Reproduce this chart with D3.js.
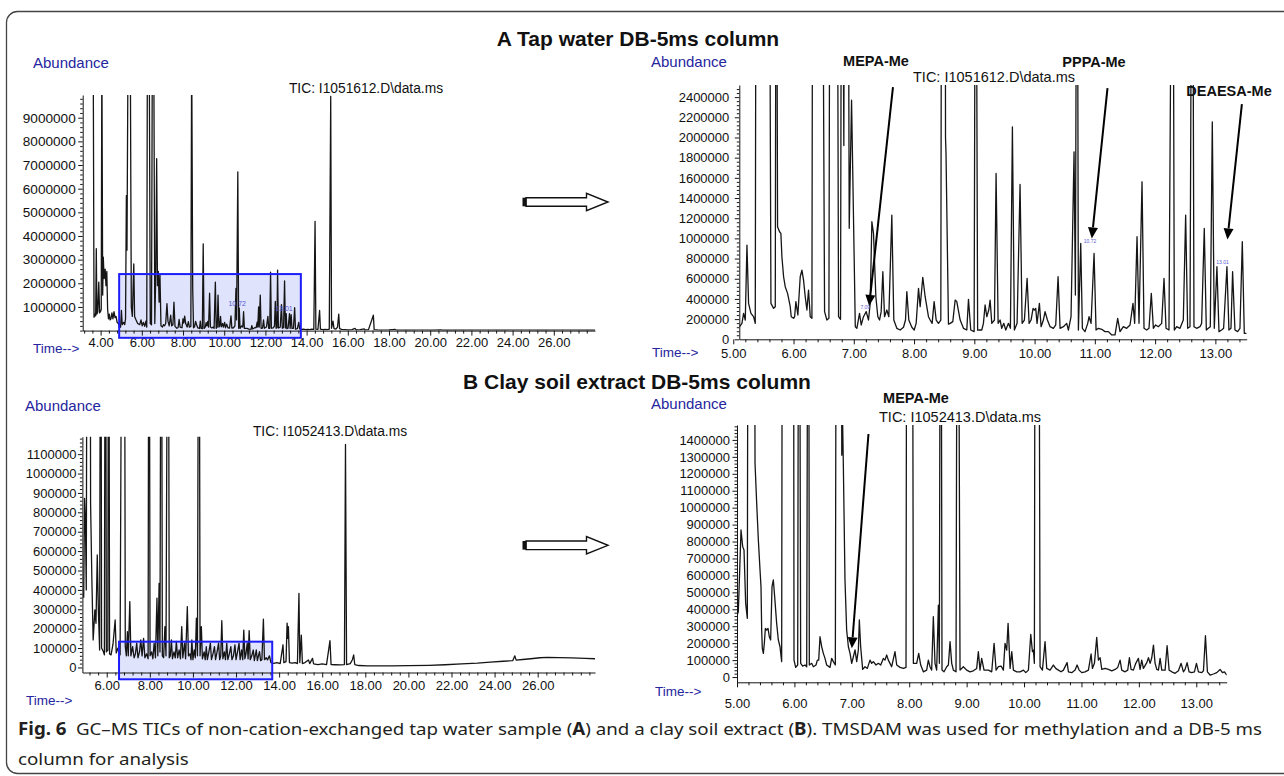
<!DOCTYPE html>
<html>
<head>
<meta charset="utf-8">
<script src="https://cdn.jsdelivr.net/npm/d3@7"></script>
<style>
  body { margin: 0; background: #fff; }
  svg text { font-family: "Liberation Sans", Arial, sans-serif; }
</style>
</head>
<body>
<svg id="fig" width="1284" height="776"></svg>
<script>
// ---- data: [retention time (min), abundance] ----
const tapFullTrace = [
  [3.64,12e6],[3.68,560e3],[3.72,700e3],[3.76,620e3],[3.79,3.46e6],[3.82,700e3],[3.86,800e3],[3.91,2.05e6],[3.95,750e3],[3.99,800e3],
  [4.03,900e3],[4.06,12e6],[4.10,1.5e6],[4.13,3.1e6],[4.17,2.2e6],[4.22,2.6e6],[4.26,1.9e6],[4.30,2.5e6],[4.34,900e3],[4.38,500e3],
  [4.42,700e3],[4.46,450e3],[4.50,500e3],[4.55,750e3],[4.60,500e3],[4.65,800e3],[4.70,550e3],[4.75,600e3],[4.80,350e3],[4.86,300e3],
  [4.92,120e3],[4.97,150e3],[5.01,850e3],[5.05,250e3],[5.12,350e3],[5.17,250e3],[5.21,500e3],[5.25,5.7e6],[5.28,3.4e6],[5.33,12e6],
  [5.44,12e6],[5.49,1.0e6],[5.54,600e3],[5.61,2.82e6],[5.65,600e3],[5.72,450e3],[5.80,300e3],[5.90,250e3],[5.96,450e3],[6.02,200e3],
  [6.08,350e3],[6.14,180e3],[6.20,400e3],[6.24,150e3],[6.27,12e6],[6.36,12e6],[6.41,300e3],[6.47,250e3],[6.51,12e6],[6.58,12e6],
  [6.63,300e3],[6.68,2.5e6],[6.72,7.27e6],[6.76,1.9e6],[6.80,2.5e6],[6.84,1.2e6],[6.88,2.37e6],[6.93,200e3],[7.00,150e3],[7.05,250e3],
  [7.10,200e3],[7.16,300e3],[7.22,1.14e6],[7.27,400e3],[7.33,200e3],[7.40,650e3],[7.45,200e3],[7.51,250e3],[7.56,1.2e6],[7.61,180e3],
  [7.70,100e3],[7.76,120e3],[7.81,470e3],[7.86,150e3],[7.95,120e3],[8.00,500e3],[8.04,320e3],[8.08,610e3],[8.13,300e3],[8.20,150e3],
  [8.26,380e3],[8.31,150e3],[8.38,180e3],[8.42,12e6],[8.47,1.8e6],[8.51,120e3],[8.56,160e3],[8.61,390e3],[8.66,250e3],[8.72,110e3],
  [8.80,90e3],[8.84,400e3],[8.88,90e3],[8.94,80e3],[8.98,3.67e6],[9.02,90e3],[9.08,150e3],[9.12,340e3],[9.16,200e3],[9.20,390e3],
  [9.24,150e3],[9.29,1.58e6],[9.33,150e3],[9.40,110e3],[9.46,150e3],[9.51,100e3],[9.57,2.05e6],[9.61,100e3],[9.66,150e3],[9.70,1.5e6],
  [9.74,150e3],[9.78,190e3],[9.82,600e3],[9.86,160e3],[9.92,300e3],[9.96,150e3],[10.02,350e3],[10.06,120e3],[10.12,270e3],[10.18,120e3],
  [10.26,110e3],[10.33,620e3],[10.37,110e3],[10.45,120e3],[10.52,200e3],[10.57,1.78e6],[10.60,450e3],[10.66,6.71e6],[10.70,100e3],[10.73,950e3],
  [10.77,90e3],[10.85,200e3],[10.90,150e3],[10.94,800e3],[10.98,90e3],[11.10,90e3],[11.20,60e3],[11.30,50e3],[11.34,210e3],[11.38,70e3],
  [11.48,120e3],[11.55,130e3],[11.60,360e3],[11.63,150e3],[11.67,1.0e6],[11.70,150e3],[11.75,1.5e6],[11.79,100e3],[11.86,110e3],[11.91,450e3],
  [11.95,100e3],[12.05,150e3],[12.12,600e3],[12.16,100e3],[12.21,100e3],[12.25,2.47e6],[12.29,100e3],[12.38,120e3],[12.44,190e3],[12.48,1.23e6],
  [12.52,100e3],[12.56,120e3],[12.59,2.56e6],[12.63,110e3],[12.72,150e3],[12.78,1.1e6],[12.82,100e3],[12.88,120e3],[12.93,2.1e6],[12.97,110e3],
  [13.01,720e3],[13.04,80e3],[13.10,100e3],[13.17,720e3],[13.20,90e3],[13.25,670e3],[13.29,90e3],[13.36,100e3],[13.42,970e3],[13.46,60e3],
  [13.55,80e3],[13.62,350e3],[13.66,70e3],[13.75,50e3],[13.85,60e3],[13.95,40e3],[14.05,50e3],[14.15,40e3],[14.25,60e3],[14.35,50e3],
  [14.41,4.62e6],[14.45,60e3],[14.55,50e3],[14.63,850e3],[14.67,60e3],[14.80,40e3],[14.90,50e3],[15.00,40e3],[15.10,60e3],[15.17,9.9e6],
  [15.21,100e3],[15.28,400e3],[15.33,80e3],[15.42,60e3],[15.50,150e3],[15.56,700e3],[15.60,80e3],[15.70,50e3],[15.85,40e3],[16.00,30e3],
  [16.20,40e3],[16.35,90e3],[16.40,30e3],[16.60,40e3],[16.80,70e3],[16.85,30e3],[17.00,30e3],[17.24,650e3],[17.28,40e3],[17.50,20e3],
  [18.00,25e3],[18.30,50e3],[18.35,20e3],[18.80,15e3],[19.50,20e3],[20.20,15e3],[20.50,30e3],[20.60,15e3],[21.50,15e3],[22.50,20e3],
  [23.50,15e3],[24.50,20e3],[25.50,15e3],[26.50,20e3],[27.50,15e3],[28.00,15e3]
];

const tapZoomTrace = [
  [5.105,125e3],[5.144,158e3],[5.171,257e3],[5.199,191e3],[5.227,934e3],[5.254,356e3],[5.293,257e3],[5.337,224e3],[5.365,158e3],[5.381,6e6],
  [5.591,6e6],[5.625,356e3],[5.669,307e3],[5.697,323e3],[5.713,6e6],[5.735,1.115e6],[5.768,1.066e6],[5.790,1.05e6],[5.807,818e3],[5.835,620e3],
  [5.862,521e3],[5.901,455e3],[5.918,406e3],[5.945,323e3],[5.962,224e3],[6.001,208e3],[6.018,224e3],[6.039,373e3],[6.072,241e3],[6.111,620e3],
  [6.139,686e3],[6.166,587e3],[6.194,422e3],[6.222,290e3],[6.249,488e3],[6.277,224e3],[6.305,208e3],[6.321,6e6],[6.470,6e6],[6.515,274e3],
  [6.553,191e3],[6.587,208e3],[6.609,6e6],[6.719,6e6],[6.747,224e3],[6.780,198e3],[6.800,6e6],[6.835,1.92e6],[6.850,6e6],[6.900,6e6],
  [6.924,1.1e6],[6.963,2.37e6],[7.025,125e3],[7.051,109e3],[7.095,257e3],[7.123,142e3],[7.161,224e3],[7.206,274e3],[7.244,191e3],[7.272,356e3],
  [7.300,1.165e6],[7.327,1.05e6],[7.366,422e3],[7.399,224e3],[7.427,191e3],[7.454,274e3],[7.482,670e3],[7.510,224e3],[7.548,290e3],[7.581,224e3],
  [7.631,1.23e6],[7.664,191e3],[7.714,109e3],[7.769,92e3],[7.825,119e3],[7.858,191e3],[7.880,472e3],[7.913,191e3],[7.963,119e3],[8.002,92e3],
  [8.035,158e3],[8.074,505e3],[8.101,323e3],[8.145,614e3],[8.184,422e3],[8.239,224e3],[8.267,191e3],[8.300,158e3],[8.333,373e3],[8.367,191e3],
  [8.405,158e3],[8.444,191e3],[8.460,6e6],[8.515,6e6],[8.522,2.0e6],[8.530,1.85e6],[8.571,150e3],[8.599,158e3],[8.643,175e3],[8.682,389e3],
  [8.709,373e3],[8.765,191e3],[8.820,109e3],[8.875,92e3],[8.903,396e3],[8.941,92e3],[8.997,76e3],[9.022,6e6],[9.055,90e3],[9.074,92e3],
  [9.124,92e3],[9.151,158e3],[9.179,340e3],[9.207,224e3],[9.240,290e3],[9.262,389e3],[9.290,158e3],[9.334,191e3],[9.361,1.643e6],[9.395,158e3],
  [9.428,191e3],[9.455,109e3],[9.489,158e3],[9.522,92e3],[9.566,158e3],[9.599,109e3],[9.632,2.105e6],[9.665,92e3],[9.710,158e3],[9.759,1.535e6],
  [9.793,158e3],[9.831,191e3],[9.876,604e3],[9.909,158e3],[9.942,191e3],[9.975,307e3],[9.997,290e3],[10.019,307e3],[10.041,158e3],[10.080,356e3],
  [10.108,125e3],[10.146,191e3],[10.174,274e3],[10.213,191e3],[10.257,125e3],[10.312,109e3],[10.351,142e3],[10.390,620e3],[10.423,109e3],[10.478,125e3],
  [10.533,158e3],[10.561,92e3],[10.605,224e3],[10.655,1.858e6],[10.677,439e3],[10.705,6e6],[10.727,92e3],[10.766,950e3],[10.793,109e3],[10.837,76e3],
  [10.882,158e3],[10.904,224e3],[10.937,158e3],[10.987,851e3],[11.020,92e3],[11.059,109e3],[11.114,99e3],[11.169,76e3],[11.225,76e3],[11.280,43e3],
  [11.335,43e3],[11.379,208e3],[11.418,76e3],[11.473,125e3],[11.528,109e3],[11.584,142e3],[11.633,356e3],[11.661,158e3],[11.700,1.016e6],[11.733,158e3],
  [11.783,1.561e6],[11.816,109e3],[11.860,92e3],[11.899,109e3],[11.937,455e3],[11.971,109e3],[12.009,142e3],[12.053,125e3],[12.109,158e3],[12.148,604e3],
  [12.181,109e3],[12.230,92e3],[12.291,6e6],[12.319,92e3],[12.358,125e3],[12.413,109e3],[12.468,191e3],[12.507,1.231e6],[12.540,109e3],[12.579,125e3],
  [12.617,6e6],[12.645,125e3],[12.689,109e3],[12.745,125e3],[12.772,158e3],[12.816,1.099e6],[12.850,92e3],[12.883,109e3],[12.916,125e3],[12.949,2.155e6],
  [12.982,109e3],[13.026,719e3],[13.060,76e3],[13.104,92e3],[13.137,109e3],[13.192,719e3],[13.225,92e3],[13.259,109e3],[13.286,670e3],[13.325,92e3],
  [13.369,76e3],[13.408,109e3],[13.447,967e3],[13.480,59e3],[13.518,59e3]
];

const clayFullTrace = [
  [4.93,360e3],[4.97,872e3],[5.01,760e3],[5.05,400e3],[5.10,3e6],[5.22,3e6],[5.25,846e3],[5.31,450e3],[5.37,142e3],[5.45,297e3],
  [5.50,228e3],[5.56,580e3],[5.61,300e3],[5.67,90e3],[5.72,3e6],[5.76,100e3],[5.85,80e3],[5.89,65e3],[5.94,3e6],[5.98,80e3],
  [6.05,90e3],[6.09,3e6],[6.13,70e3],[6.20,65e3],[6.29,120e3],[6.39,245e3],[6.44,75e3],[6.52,100e3],[6.62,65e3],[6.73,3e6],
  [6.81,3e6],[6.86,110e3],[6.91,60e3],[6.96,185e3],[7.00,60e3],[7.07,340e3],[7.12,60e3],[7.20,107e3],[7.27,50e3],[7.33,70e3],
  [7.39,125e3],[7.45,50e3],[7.52,80e3],[7.58,142e3],[7.64,60e3],[7.71,150e3],[7.77,50e3],[7.85,70e3],[7.92,45e3],[7.96,3e6],
  [8.01,60e3],[8.08,80e3],[8.14,45e3],[8.20,125e3],[8.26,50e3],[8.33,357e3],[8.37,60e3],[8.43,434e3],[8.47,80e3],[8.53,3e6],
  [8.58,60e3],[8.64,50e3],[8.70,211e3],[8.75,60e3],[8.85,3e6],[8.90,50e3],[8.95,60e3],[9.00,142e3],[9.05,45e3],[9.12,80e3],
  [9.18,50e3],[9.23,134e3],[9.29,50e3],[9.36,90e3],[9.42,45e3],[9.48,211e3],[9.53,50e3],[9.61,125e3],[9.66,45e3],[9.74,314e3],
  [9.79,60e3],[9.86,70e3],[9.91,40e3],[9.95,142e3],[10.00,40e3],[10.06,90e3],[10.11,50e3],[10.16,254e3],[10.21,60e3],[10.28,3e6],
  [10.33,60e3],[10.39,211e3],[10.44,45e3],[10.52,80e3],[10.57,40e3],[10.62,107e3],[10.67,40e3],[10.74,80e3],[10.81,125e3],[10.86,40e3],
  [10.93,70e3],[11.00,107e3],[11.05,40e3],[11.12,80e3],[11.19,125e3],[11.24,40e3],[11.29,60e3],[11.34,241e3],[11.39,45e3],[11.46,80e3],
  [11.51,40e3],[11.57,125e3],[11.62,40e3],[11.69,70e3],[11.76,107e3],[11.81,40e3],[11.88,60e3],[11.95,116e3],[12.00,40e3],[12.07,80e3],
  [12.14,125e3],[12.19,40e3],[12.26,90e3],[12.31,40e3],[12.36,193e3],[12.41,45e3],[12.46,70e3],[12.52,125e3],[12.56,45e3],[12.61,190e3],
  [12.66,40e3],[12.73,60e3],[12.80,90e3],[12.85,35e3],[12.94,90e3],[12.99,35e3],[13.04,60e3],[13.09,82e3],[13.14,35e3],[13.20,40e3],
  [13.27,249e3],[13.32,40e3],[13.40,50e3],[13.46,39e3],[13.55,60e3],[13.62,25e3],[13.75,21e3],[13.90,25e3],[14.05,20e3],[14.18,117e3],
  [14.22,25e3],[14.32,30e3],[14.37,229e3],[14.40,150e3],[14.43,211e3],[14.48,25e3],[14.60,22e3],[14.75,25e3],[14.85,20e3],[14.92,382e3],
  [14.96,25e3],[15.03,167e3],[15.08,20e3],[15.20,25e3],[15.36,39e3],[15.42,20e3],[15.55,47e3],[15.60,18e3],[15.80,15e3],[16.00,18e3],
  [16.20,15e3],[16.36,138e3],[16.41,15e3],[16.60,14e3],[16.85,13e3],[17.03,15e3],[17.08,1.15e6],[17.13,15e3],[17.30,20e3],[17.40,40e3],
  [17.46,65e3],[17.51,15e3],[17.70,10e3],[18.10,8e3],[18.60,8e3],[19.24,8e3],[20.00,9e3],[20.95,11e3],[21.70,14e3],[22.47,18e3],
  [23.20,22e3],[23.80,28e3],[24.40,32e3],[24.84,35e3],[24.94,60e3],[25.00,38e3],[25.30,41e3],[25.68,45e3],[26.10,50e3],[26.44,52e3],
  [27.00,51e3],[27.58,49e3],[28.20,47e3],[28.66,45e3]
];

const clayZoomTrace = [
  [4.994,356e3],[5.023,386e3],[5.070,868e3],[5.099,770e3],[5.122,750e3],[5.151,435e3],[5.180,346e3],[5.197,4e6],[5.296,4e6],[5.314,1.262e6],
  [5.343,1.026e6],[5.372,809e3],[5.401,632e3],[5.418,534e3],[5.430,278e3],[5.441,169e3],[5.459,140e3],[5.476,199e3],[5.494,287e3],[5.517,278e3],
  [5.540,287e3],[5.563,238e3],[5.586,219e3],[5.610,534e3],[5.633,573e3],[5.656,475e3],[5.691,317e3],[5.720,219e3],[5.749,179e3],[5.778,91e3],
  [5.795,4e6],[5.981,4e6],[5.993,100e3],[6.022,57e3],[6.057,71e3],[6.080,4e6],[6.109,81e3],[6.144,65e3],[6.185,71e3],[6.214,61e3],
  [6.243,4e6],[6.260,71e3],[6.301,81e3],[6.330,61e3],[6.376,71e3],[6.400,100e3],[6.423,100e3],[6.446,238e3],[6.475,179e3],[6.504,140e3],
  [6.533,110e3],[6.562,71e3],[6.620,57e3],[6.649,110e3],[6.678,91e3],[6.713,71e3],[6.736,4e6],[6.810,4e6],[6.825,1.31e6],[6.835,1.6e6],
  [6.852,1.262e6],[6.881,573e3],[6.910,278e3],[6.940,179e3],[6.969,140e3],[6.998,81e3],[7.027,120e3],[7.056,160e3],[7.085,91e3],[7.114,160e3],
  [7.131,337e3],[7.154,179e3],[7.189,45e3],[7.230,61e3],[7.270,51e3],[7.317,100e3],[7.346,81e3],[7.375,91e3],[7.421,71e3],[7.462,81e3],
  [7.503,71e3],[7.549,110e3],[7.578,100e3],[7.607,130e3],[7.636,100e3],[7.665,81e3],[7.694,61e3],[7.752,150e3],[7.782,71e3],[7.840,57e3],
  [7.898,51e3],[7.944,57e3],[7.962,4e6],[8.049,4e6],[8.072,81e3],[8.130,81e3],[8.165,140e3],[8.200,71e3],[8.246,31e3],[8.304,41e3],
  [8.333,100e3],[8.362,61e3],[8.391,41e3],[8.420,356e3],[8.449,81e3],[8.478,41e3],[8.508,425e3],[8.525,81e3],[8.548,4e6],[8.571,41e3],
  [8.606,31e3],[8.653,61e3],[8.682,71e3],[8.711,209e3],[8.740,81e3],[8.769,41e3],[8.815,31e3],[8.844,4e6],[8.885,41e3],[8.943,61e3],
  [9.001,41e3],[9.059,31e3],[9.117,37e3],[9.175,51e3],[9.204,150e3],[9.233,41e3],[9.262,110e3],[9.303,41e3],[9.349,41e3],[9.379,41e3],
  [9.437,31e3],[9.478,199e3],[9.513,41e3],[9.553,61e3],[9.600,65e3],[9.640,41e3],[9.669,199e3],[9.698,159e3],[9.722,317e3],[9.757,51e3],
  [9.786,150e3],[9.815,41e3],[9.873,31e3],[9.931,31e3],[9.989,41e3],[10.030,26e3],[10.076,41e3],[10.117,252e3],[10.146,150e3],[10.163,159e3],
  [10.180,81e3],[10.198,4e6],[10.250,4e6],[10.279,61e3],[10.320,41e3],[10.366,209e3],[10.395,51e3],[10.453,41e3],[10.511,71e3],[10.552,51e3],
  [10.598,41e3],[10.645,31e3],[10.686,41e3],[10.750,85e3],[10.773,31e3],[10.831,26e3],[10.889,41e3],[10.924,71e3],[10.959,41e3],[11.005,26e3],
  [11.063,31e3],[11.121,41e3],[11.168,136e3],[11.191,51e3],[11.226,81e3],[11.266,234e3],[11.295,100e3],[11.325,114e3],[11.354,45e3],[11.412,51e3],
  [11.470,45e3],[11.528,37e3],[11.586,45e3],[11.632,57e3],[11.673,100e3],[11.702,41e3],[11.760,31e3],[11.806,41e3],[11.835,114e3],[11.864,45e3],
  [11.905,41e3],[11.946,81e3],[11.992,110e3],[12.021,45e3],[12.050,100e3],[12.079,51e3],[12.138,85e3],[12.167,114e3],[12.196,81e3],[12.225,114e3],
  [12.254,189e3],[12.283,81e3],[12.312,45e3],[12.341,41e3],[12.370,110e3],[12.399,41e3],[12.457,41e3],[12.492,185e3],[12.527,41e3],[12.573,31e3],
  [12.631,22e3],[12.689,37e3],[12.736,81e3],[12.776,31e3],[12.805,45e3],[12.840,85e3],[12.875,31e3],[12.921,26e3],[12.968,31e3],[13.003,81e3],
  [13.038,31e3],[13.096,26e3],[13.125,37e3],[13.160,244e3],[13.194,31e3],[13.241,12e3],[13.299,18e3],[13.357,26e3],[13.415,45e3],[13.456,26e3],
  [13.491,31e3],[13.531,12e3]
];

// axis tick labels
const tapFullXTicks = [4, 6, 8, 10, 12, 14, 16, 18, 20, 22, 24, 26];
const clayFullXTicks = [6, 8, 10, 12, 14, 16, 18, 20, 22, 24, 26];
const zoomXTicks = [5, 6, 7, 8, 9, 10, 11, 12, 13];
const tapFullYTicks = [1e6, 2e6, 3e6, 4e6, 5e6, 6e6, 7e6, 8e6, 9e6];
const tapZoomYTicks = [0, 2e5, 4e5, 6e5, 8e5, 1e6, 1.2e6, 1.4e6, 1.6e6, 1.8e6, 2e6, 2.2e6, 2.4e6];
const clayFullYTicks = [0, 1e5, 2e5, 3e5, 4e5, 5e5, 6e5, 7e5, 8e5, 9e5, 1e6, 1.1e6];
const clayZoomYTicks = [0, 1e5, 2e5, 3e5, 4e5, 5e5, 6e5, 7e5, 8e5, 9e5, 1e6, 1.1e6, 1.2e6, 1.3e6, 1.4e6];

// zoom windows marked on the full runs: [from, to, bottom, top]
const tapBox = [4.90, 13.72, -305e3, 2.39e6];
const clayBox = [6.57, 13.68, -61e3, 133e3];

// integration tags printed by the software
const tapFullTags = [{text: '10.72', t: 10.63, v: 1.03e6}, {text: '13.01', t: 12.90, v: 8.2e5}];
const tapZoomTags = [{text: '7.09', t: 7.19, v: 3.0e5}, {text: '10.72', t: 10.92, v: 9.5e5}, {text: '13.01', t: 13.12, v: 7.45e5}];

// compound arrows: start and tip in data units
const tapZoomArrows = [
  {name: 'MEPA-Me', from: [7.65, 2.5e6], to: [7.255, 3.3e5]},
  {name: 'PPPA-Me', from: [11.21, 2.49e6], to: [10.95, 1.0e6]},
  {name: 'DEAESA-Me', from: [13.44, 2.33e6], to: [13.20, 9.9e5]}
];
const clayZoomArrows = [{name: 'MEPA-Me', from: [7.29, 1.435e6], to: [7.0, 1.7e5]}];

const captionLine1 = [
  ['Fig. 6', true], ['\u2002GC\u2013MS TICs of non-cation-exchanged tap water sample (', false], ['A', true],
  [') and a clay soil extract (', false], ['B', true], ['). TMSDAM was used for methylation and a DB-5 ms', false]
];
const captionLine2 = 'column for analysis';

// ---- drawing ----
const ink = '#151515';
const blue = '#25259e';
const svg = d3.select('#fig');

svg.append('rect')
  .attr('x', 6.5).attr('y', 11.5).attr('width', 1320).attr('height', 762).attr('rx', 11)
  .attr('fill', 'none').attr('stroke', '#444').attr('stroke-width', 1.3);

svg.append('text').attr('x', 638).attr('y', 46).attr('text-anchor', 'middle')
  .attr('font-size', 21).attr('font-weight', 'bold').attr('fill', '#111')
  .text('A Tap water DB-5ms column');
svg.append('text').attr('x', 637).attr('y', 389).attr('text-anchor', 'middle')
  .attr('font-size', 21).attr('font-weight', 'bold').attr('fill', '#111')
  .text('B Clay soil extract DB-5ms column');

function minorValues(domain, step, majors) {
  const start = Math.ceil(Math.max(domain[0], 0) / step) * step;
  return d3.range(start, domain[1], step)
    .map(v => Math.round(v * 1000) / 1000)
    .filter(v => !majors.some(m => Math.abs(m - v) < step / 10));
}

function drawPanel(p) {
  const x = d3.scaleLinear().domain(p.xDomain).range(p.xRange);
  const y = d3.scaleLinear().domain(p.yDomain).range(p.yRange);
  const [x0, x1] = p.xRange;
  const [yb, yt] = p.yRange;
  const g = svg.append('g');

  if (p.box) {
    g.append('rect')
      .attr('x', x(p.box[0])).attr('y', y(p.box[3]))
      .attr('width', x(p.box[1]) - x(p.box[0])).attr('height', y(p.box[2]) - y(p.box[3]))
      .attr('fill', '#dfe3fb');
  }

  svg.append('clipPath').attr('id', 'clip-' + p.id)
    .append('rect').attr('x', x0).attr('y', yt).attr('width', x1 - x0).attr('height', yb - yt);

  g.append('path')
    .datum(p.trace)
    .attr('clip-path', `url(#clip-${p.id})`)
    .attr('d', d3.line().x(d => x(d[0])).y(d => y(d[1])))
    .attr('fill', 'none')
    .attr('stroke', ink)
    .attr('stroke-width', 1.3)
    .attr('stroke-linejoin', 'round');

  // x axis
  g.append('g')
    .attr('transform', `translate(0,${yb})`)
    .call(d3.axisBottom(x).tickValues(minorValues(p.xDomain, p.xMinor, p.xTicks)).tickSize(3).tickFormat(''))
    .call(a => a.select('.domain').remove());
  const xa = g.append('g')
    .attr('transform', `translate(0,${yb})`)
    .call(d3.axisBottom(x).tickValues(p.xTicks).tickFormat(d3.format('.2f'))
      .tickSize(5).tickSizeOuter(0).tickPadding(p.xPad));
  xa.selectAll('text').attr('font-size', 13).attr('fill', '#111')
    .attr('font-family', '"Liberation Sans", Arial, sans-serif');

  // y axis
  g.append('g')
    .attr('transform', `translate(${x0},0)`)
    .call(d3.axisLeft(y).tickValues(minorValues(p.yDomain, p.yMinor, p.yTicks)).tickSize(2.5).tickFormat(''))
    .call(a => a.select('.domain').remove());
  const ya = g.append('g')
    .attr('transform', `translate(${x0},0)`)
    .call(d3.axisLeft(y).tickValues(p.yTicks).tickFormat(d3.format('d'))
      .tickSize(4.5).tickSizeOuter(0).tickPadding(p.yPad));
  ya.selectAll('text').attr('font-size', p.yFont).attr('fill', '#111')
    .attr('font-family', '"Liberation Sans", Arial, sans-serif');
  g.selectAll('.domain, .tick line').attr('stroke', ink);

  if (p.box) {
    g.append('rect')
      .attr('x', x(p.box[0])).attr('y', y(p.box[3]))
      .attr('width', x(p.box[1]) - x(p.box[0])).attr('height', y(p.box[2]) - y(p.box[3]))
      .attr('fill', 'none').attr('stroke', '#1d1dfa').attr('stroke-width', 2);
  }

  (p.tags || []).forEach(tag => {
    g.append('text').attr('x', x(tag.t)).attr('y', y(tag.v)).attr('text-anchor', 'middle')
      .attr('font-size', p.tagFont).attr('fill', '#5a5ad6').text(tag.text);
  });

  (p.arrows || []).forEach((a, i) => {
    const sx = x(a.from[0]), sy = y(a.from[1]);
    const tx = x(a.to[0]), ty = y(a.to[1]);
    const len = Math.hypot(tx - sx, ty - sy);
    const ux = (tx - sx) / len, uy = (ty - sy) / len;
    const hl = 11, hw = 5;
    const bx = tx - ux * hl, by = ty - uy * hl;
    g.append('line').attr('x1', sx).attr('y1', sy).attr('x2', bx).attr('y2', by)
      .attr('stroke', '#000').attr('stroke-width', 2);
    g.append('path')
      .attr('d', `M${tx},${ty}L${bx - uy * hw},${by + ux * hw}L${bx + uy * hw},${by - ux * hw}Z`)
      .attr('fill', '#000');
    const lp = p.arrowLabels[i];
    g.append('text').attr('x', lp[0]).attr('y', lp[1]).attr('text-anchor', 'middle')
      .attr('font-size', 14.5).attr('font-weight', 'bold').attr('fill', '#111').text(a.name);
  });

  g.append('text').attr('x', p.abundance[0]).attr('y', p.abundance[1])
    .attr('font-size', 15).attr('fill', blue).text('Abundance');
  g.append('text').attr('x', p.time[0]).attr('y', p.time[1])
    .attr('font-size', 13.5).attr('fill', blue).text('Time-->');
  g.append('text').attr('x', p.tic[0]).attr('y', p.tic[1]).attr('text-anchor', 'middle')
    .attr('font-size', p.ticFont).attr('fill', '#111').text(p.ticText);
}

const panels = [
  {id: 'a1', trace: tapFullTrace, xDomain: [3.13, 28.0], xRange: [82.7, 595], yDomain: [0, 9.96e6], yRange: [330.6, 95],
   xTicks: tapFullXTicks, xMinor: 0.4, xPad: 2, yTicks: tapFullYTicks, yMinor: 2e5, yPad: 2.5, yFont: 13.6,
   box: tapBox, tags: tapFullTags, tagFont: 7,
   abundance: [33, 68], time: [33, 353], tic: [366, 93], ticFont: 13.8, ticText: 'TIC: I1051612.D\\data.ms'},
  {id: 'a2', trace: tapZoomTrace, xDomain: [5.10, 13.52], xRange: [739.3, 1246.7], yDomain: [0, 2.52e6], yRange: [339.3, 85],
   xTicks: zoomXTicks, xMinor: 0.2, xPad: 4, yTicks: tapZoomYTicks, yMinor: 4e4, yPad: 5.5, yFont: 13,
   tags: tapZoomTags, tagFont: 5, arrows: tapZoomArrows, arrowLabels: [[876, 66], [1094, 67], [1229, 96]],
   abundance: [651, 66.5], time: [652, 357], tic: [994, 82], ticFont: 14.5, ticText: 'TIC: I1051612.D\\data.ms'},
  {id: 'b1', trace: clayFullTrace, xDomain: [4.87, 28.66], xRange: [82.4, 595], yDomain: [-26e3, 1.19e6], yRange: [672.5, 436.7],
   xTicks: clayFullXTicks, xMinor: 0.4, xPad: 3, yTicks: clayFullYTicks, yMinor: 2e4, yPad: 1.5, yFont: 13,
   box: clayBox,
   abundance: [25, 411], time: [26, 705], tic: [330, 435.5], ticFont: 13.8, ticText: 'TIC: I1052413.D\\data.ms'},
  {id: 'b2', trace: clayZoomTrace, xDomain: [5.0, 13.53], xRange: [737, 1226.7], yDomain: [-31e3, 1.488e6], yRange: [682.3, 425],
   xTicks: zoomXTicks, xMinor: 0.2, xPad: 11, yTicks: clayZoomYTicks, yMinor: 2e4, yPad: 2.5, yFont: 13,
   arrows: clayZoomArrows, arrowLabels: [[916, 403]],
   abundance: [651, 409], time: [655, 696], tic: [960, 421.5], ticFont: 14.5, ticText: 'TIC: I1052413.D\\data.ms'}
];

panels.forEach(drawPanel);

// outlined block arrows between full run and zoomed run
function blockArrow(cy) {
  const pts = [[526, cy - 4.3], [586.5, cy - 4.3], [586.5, cy - 8.7], [608, cy], [586.5, cy + 8.7], [586.5, cy + 4.3], [526, cy + 4.3]];
  svg.append('polygon').attr('points', pts.map(d => d.join(',')).join(' '))
    .attr('fill', '#fff').attr('stroke', '#111').attr('stroke-width', 1.4);
  svg.append('rect').attr('x', 522.5).attr('y', cy - 4.3).attr('width', 4).attr('height', 8.6).attr('fill', '#111');
}
blockArrow(202);
blockArrow(545.3);

// caption
const cap = svg.append('g').attr('fill', '#231f20');
const line1 = cap.append('text').attr('x', 0).attr('y', 735)
  .style('font-family', '"Noto Sans", "Open Sans", sans-serif').attr('font-size', 17);
captionLine1.forEach(seg => line1.append('tspan').attr('font-weight', seg[1] ? 'bold' : 'normal').text(seg[0]));
cap.append('text').attr('x', 0).attr('y', 765)
  .style('font-family', '"Noto Sans", "Open Sans", sans-serif').attr('font-size', 17)
  .text(captionLine2);
const natural = line1.node().getComputedTextLength();
cap.attr('transform', `translate(18,0) scale(${1245 / natural},1)`);
</script>
</body>
</html>
